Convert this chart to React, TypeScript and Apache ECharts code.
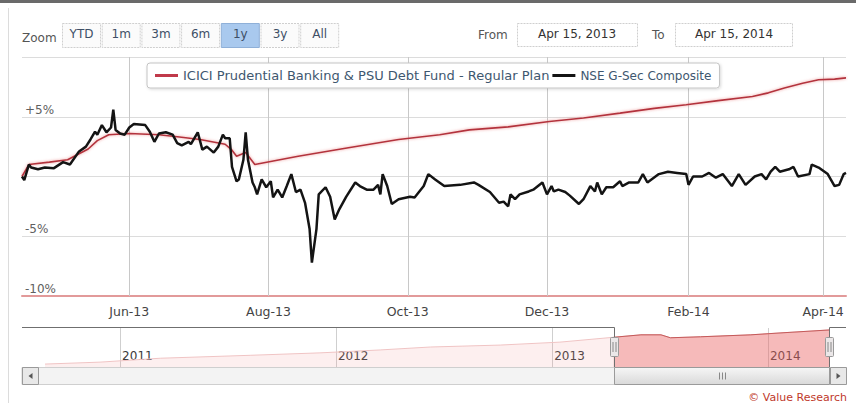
import React, { useEffect, useRef } from 'react';
import * as echarts from 'echarts';

const FONT = '"DejaVu Sans", Verdana, sans-serif';

const fundName = 'ICICI Prudential Banking & PSU Debt Fund - Regular Plan';
const indexName = 'NSE G-Sec Composite';

const mainStart = '2013-04-15';
const mainEnd = '2014-04-11';

const fundDates = [
  '2013-04-15', '2013-04-18', '2013-04-27', '2013-05-05', '2013-05-10', '2013-05-14', '2013-05-18',
  '2013-05-23', '2013-06-01', '2013-06-14', '2013-06-23', '2013-07-02', '2013-07-13', '2013-07-16',
  '2013-07-18', '2013-07-22', '2013-07-26', '2013-08-14', '2013-09-05', '2013-09-27', '2013-10-15',
  '2013-10-28', '2013-11-14', '2013-12-02', '2013-12-17', '2014-01-02', '2014-01-17', '2014-01-31',
  '2014-02-14', '2014-03-01', '2014-03-08', '2014-03-15', '2014-03-23', '2014-03-30', '2014-04-06',
  '2014-04-11',
];
const fundValues = [
  0.0, 1.0, 1.2, 1.4, 1.9, 2.3, 3.0,
  3.5, 3.6, 3.5, 3.3, 3.1, 2.7, 2.2,
  1.7, 2.0, 1.0, 1.7, 2.4, 3.1, 3.5,
  3.9, 4.15, 4.6, 4.9, 5.3, 5.7, 6.0,
  6.35, 6.7, 7.0, 7.4, 7.8, 8.1, 8.15,
  8.25,
];

const indexDates = [
  '2013-04-15', '2013-04-16', '2013-04-18', '2013-04-19', '2013-04-22', '2013-04-25', '2013-04-29',
  '2013-05-03', '2013-05-06', '2013-05-10', '2013-05-13', '2013-05-15', '2013-05-17', '2013-05-18',
  '2013-05-20', '2013-05-22', '2013-05-24', '2013-05-25', '2013-05-26', '2013-05-28', '2013-05-30',
  '2013-06-01', '2013-06-03', '2013-06-08', '2013-06-10', '2013-06-12', '2013-06-14', '2013-06-17',
  '2013-06-20', '2013-06-22', '2013-06-24', '2013-06-27', '2013-06-28', '2013-07-01', '2013-07-03',
  '2013-07-05', '2013-07-08', '2013-07-10', '2013-07-12', '2013-07-13', '2013-07-15', '2013-07-16',
  '2013-07-18', '2013-07-19', '2013-07-21', '2013-07-22', '2013-07-23', '2013-07-25', '2013-07-26',
  '2013-07-27', '2013-07-29', '2013-07-31', '2013-08-02', '2013-08-03', '2013-08-05', '2013-08-07',
  '2013-08-09', '2013-08-11', '2013-08-13', '2013-08-15', '2013-08-17', '2013-08-19', '2013-08-20',
  '2013-08-22', '2013-08-23', '2013-08-26', '2013-08-28', '2013-08-30', '2013-09-01', '2013-09-04',
  '2013-09-08', '2013-09-10', '2013-09-13', '2013-09-16', '2013-09-18', '2013-09-19', '2013-09-20',
  '2013-09-22', '2013-09-24', '2013-09-27', '2013-10-02', '2013-10-04', '2013-10-08', '2013-10-10',
  '2013-10-13', '2013-10-17', '2013-10-24', '2013-10-30', '2013-11-01', '2013-11-06', '2013-11-10',
  '2013-11-12', '2013-11-14', '2013-11-15', '2013-11-17', '2013-11-19', '2013-11-23', '2013-11-25',
  '2013-11-29', '2013-12-01', '2013-12-03', '2013-12-04', '2013-12-06', '2013-12-09', '2013-12-11',
  '2013-12-15', '2013-12-17', '2013-12-20', '2013-12-22', '2013-12-23', '2013-12-25', '2013-12-27',
  '2013-12-30', '2014-01-02', '2014-01-03', '2014-01-06', '2014-01-10', '2014-01-12', '2014-01-14',
  '2014-01-19', '2014-01-23', '2014-01-27', '2014-01-31', '2014-02-01', '2014-02-03', '2014-02-07',
  '2014-02-10', '2014-02-13', '2014-02-16', '2014-02-20', '2014-02-23', '2014-02-26', '2014-03-02',
  '2014-03-05', '2014-03-07', '2014-03-09', '2014-03-11', '2014-03-13', '2014-03-17', '2014-03-19',
  '2014-03-21', '2014-03-26', '2014-03-27', '2014-03-30', '2014-04-03', '2014-04-06', '2014-04-08',
  '2014-04-10', '2014-04-11',
];
const indexValues = [
  0.0, -0.3, 1.0, 0.75, 0.6, 0.75, 0.7,
  1.2, 1.0, 2.1, 2.5, 3.1, 3.75, 3.5,
  4.3, 3.7, 4.1, 5.6, 3.9, 3.6, 3.5,
  4.1, 4.4, 4.3, 3.75, 2.9, 3.6, 3.7,
  3.5, 2.8, 2.6, 2.9, 2.7, 3.7, 2.25,
  2.5, 2.0, 2.5, 3.5, 3.2, 3.2, 0.8,
  -0.4, -0.25, 1.4, 3.7, 1.4, -0.5, -0.9,
  -1.5, -0.25, -0.9, -0.4, -1.75, -1.1, -1.75,
  -0.8, 0.2, -1.3, -1.1, -2.2, -4.4, -7.2,
  -4.4, -1.5, -0.9, -1.7, -3.6, -2.75, -1.7,
  -0.5, -0.8, -1.1, -1.1, -0.7, -1.5, 0.2,
  -0.8, -2.3, -1.9, -1.7, -1.75, -0.8, 0.2,
  -0.25, -0.8, -0.7, -0.5, -0.7, -1.3, -2.2,
  -2.1, -2.5, -1.5, -1.9, -1.5, -1.25, -1.1,
  -0.5, -1.5, -0.8, -1.25, -1.1, -1.3, -1.6,
  -2.3, -1.9, -0.8, -1.25, -0.5, -1.5, -0.9,
  -0.9, -0.4, -0.8, -0.5, -0.5, 0.2, -0.5,
  0.2, 0.4, 0.3, 0.2, -0.7, 0.0, 0.0,
  0.3, -0.1, 0.2, -0.8, 0.2, -0.7, 0.0,
  0.2, -0.25, 0.4, 0.8, 0.4, 0.6, 0.8,
  0.0, 0.2, 1.0, 0.75, 0.2, -0.8, -0.7,
  0.2, 0.3,
];

const yTickLabels = ['-10%', '-5%', '', '+5%', ''];
const monthTicks = ['2013-06-01', '2013-08-01', '2013-10-01', '2013-12-01', '2014-02-01', '2014-04-01'];

// Navigator (full history of the fund)
const navStart = '2010-07-19';
const navEnd = '2014-05-13';
const navDates = [
  '2010-08-27', '2010-11-28', '2011-03-10', '2011-08-09', '2011-12-05', '2012-03-16',
  '2012-06-09', '2012-10-05', '2013-01-14', '2013-04-15', '2013-05-31', '2013-07-04',
  '2013-07-20', '2013-09-09', '2013-12-03', '2014-01-23', '2014-04-15',
];
const navValues = [
  10.3, 10.5, 10.9, 11.2, 11.45, 11.75,
  12.05, 12.25, 12.55, 13.05, 13.3, 13.3,
  13.0, 13.1, 13.3, 13.5, 13.8,
];
const navYearTicks = ['2011-01-01', '2012-01-01', '2013-01-01', '2014-01-01'];
const selStart = '2013-04-15';
const selEnd = '2014-04-15';

const rangeButtons = ['YTD', '1m', '3m', '6m', '1y', '3y', 'All'];
const selectedButton = '1y';
const fromText = 'Apr 15, 2013';
const toText = 'Apr 15, 2014';

const MONTHS = ['Jan', 'Feb', 'Mar', 'Apr', 'May', 'Jun', 'Jul', 'Aug', 'Sep', 'Oct', 'Nov', 'Dec'];
const ts = (s: string) => new Date(s + 'T00:00:00').getTime();
const fmtMonth = (t: number) => {
  const d = new Date(t);
  return MONTHS[d.getMonth()] + '-' + String(d.getFullYear()).slice(2);
};

function txt(x: number, y: number, text: string, size: number, fill: string, align = 'left') {
  return {
    type: 'text',
    x,
    y,
    z: 20,
    style: {
      text,
      fill,
      font: `${size}px ${FONT}`,
      align,
      verticalAlign: 'middle',
      textAlign: align,
      textVerticalAlign: 'middle',
    },
  };
}

function staticGraphics() {
  const g: any[] = [];
  g.push({ type: 'rect', z: 20, shape: { x: 0, y: 0, width: 856, height: 3 }, style: { fill: '#6a6a6a' } });
  g.push({ type: 'line', z: 20, shape: { x1: 8.5, y1: 8, x2: 8.5, y2: 403 }, style: { stroke: '#dcdcdc', lineWidth: 1 } });
  g.push(txt(22, 38, 'Zoom', 12, '#555'));
  rangeButtons.forEach((b, i) => {
    const x = 62 + i * 39.7;
    const sel = b === selectedButton;
    g.push({
      type: 'rect', z: 20,
      shape: { x: x + 0.5, y: 23.5, width: 38, height: 24 },
      style: { fill: sel ? '#a9c9ee' : '#fbfbfb', stroke: sel ? '#8fb0d8' : '#cfcfcf', lineWidth: 1, lineDash: sel ? null : [2, 1] },
    });
    g.push(txt(x + 19.5, 34, b, 12, '#3e4f66', 'center'));
  });
  g.push(txt(478, 35, 'From', 12, '#555'));
  g.push({ type: 'rect', z: 20, shape: { x: 517.5, y: 23.5, width: 120, height: 23 }, style: { fill: '#fff', stroke: '#cfcfcf', lineWidth: 1, lineDash: [2, 1] } });
  g.push(txt(577, 34, fromText, 12, '#333', 'center'));
  g.push(txt(652, 35, 'To', 12, '#555'));
  g.push({ type: 'rect', z: 20, shape: { x: 675.5, y: 23.5, width: 117, height: 23 }, style: { fill: '#fff', stroke: '#cfcfcf', lineWidth: 1, lineDash: [2, 1] } });
  g.push(txt(734, 34, toText, 12, '#333', 'center'));
  g.push(txt(847, 397, '\u00A9 Value Research', 11, '#c0392b', 'right'));
  return g;
}

function navigatorGraphics(x0: number, x1: number) {
  const top = 327.5;
  const bot = 367.5;
  const left = 22;
  const right = 846;
  const g: any[] = [];
  g.push({
    type: 'polyline', z: 20,
    shape: { points: [[left, top], [x0, top], [x0, bot], [x1, bot], [x1, top], [right, top]] },
    style: { stroke: '#6f6f6f', lineWidth: 1, fill: null },
  });
  g.push({ type: 'rect', z: 20, shape: { x: left, y: bot, width: right - left, height: 17 }, style: { fill: '#f3f3f3', stroke: '#cfcfcf', lineWidth: 1 } });
  g.push({
    type: 'rect', z: 21, shape: { x: x0, y: bot, width: x1 - x0, height: 17 },
    style: {
      fill: new echarts.graphic.LinearGradient(0, 0, 0, 1, [
        { offset: 0, color: '#f6f6f6' },
        { offset: 1, color: '#d9d9d9' },
      ]),
      stroke: '#9a9a9a', lineWidth: 1,
    },
  });
  const cx = Math.round((x0 + x1) / 2);
  [-3, 0, 3].forEach((d) => {
    g.push({ type: 'line', z: 22, shape: { x1: cx + d + 0.5, y1: bot + 5, x2: cx + d + 0.5, y2: bot + 12 }, style: { stroke: '#888', lineWidth: 1 } });
  });
  const btn = (bx: number, dir: number) => {
    g.push({ type: 'rect', z: 22, shape: { x: bx + 0.5, y: bot, width: 16, height: 17 }, style: { fill: '#e8e8e8', stroke: '#9a9a9a', lineWidth: 1 } });
    const mx = bx + 8.5;
    const pts = dir < 0 ? [[mx + 2, bot + 5.5], [mx + 2, bot + 11.5], [mx - 2, bot + 8.5]] : [[mx - 2, bot + 5.5], [mx - 2, bot + 11.5], [mx + 2, bot + 8.5]];
    g.push({ type: 'polygon', z: 23, shape: { points: pts }, style: { fill: '#555' } });
  };
  btn(left, -1);
  btn(right - 16, 1);
  [x0, x1].forEach((hx) => {
    g.push({ type: 'rect', z: 22, shape: { x: hx - 4, y: 337.5, width: 8, height: 19, r: 1 }, style: { fill: '#ebe7e8', stroke: '#9a9a9a', lineWidth: 1 } });
    g.push({ type: 'line', z: 23, shape: { x1: hx - 1.5, y1: 342, x2: hx - 1.5, y2: 352 }, style: { stroke: '#888', lineWidth: 1 } });
    g.push({ type: 'line', z: 23, shape: { x1: hx + 1.5, y1: 342, x2: hx + 1.5, y2: 352 }, style: { stroke: '#888', lineWidth: 1 } });
  });
  return g;
}

export default function App() {
  const ref = useRef<HTMLDivElement>(null);

  useEffect(() => {
    document.body.style.margin = '0';
    const chart = echarts.init(ref.current!, null, { renderer: 'svg' });

    const fundData = fundDates.map((d, i) => [ts(d), fundValues[i]]);
    const indexData = indexDates.map((d, i) => [ts(d), indexValues[i]]);
    const navData = navDates.map((d, i) => [ts(d), navValues[i]]);
    const navSel = navData.filter((p) => p[0] >= ts(selStart) && p[0] <= ts(selEnd));

    const option: any = {
      animation: false,
      backgroundColor: '#fff',
      textStyle: { fontFamily: FONT },
      legend: {
        data: [fundName, indexName],
        left: 147,
        top: 63,
        padding: [6, 8],
        itemGap: 3,
        itemWidth: 23,
        itemHeight: 3,
        icon: 'rect',
        selectedMode: false,
        backgroundColor: '#fff',
        borderColor: '#c4c4c4',
        borderWidth: 1,
        borderRadius: 3,
        shadowColor: 'rgba(0,0,0,0.15)',
        shadowBlur: 3,
        shadowOffsetX: 1,
        shadowOffsetY: 1,
        formatter: (name: string) => (name === fundName ? `{a|${name}}` : `{b|${name}}`),
        textStyle: {
          color: '#3e576f', fontFamily: FONT,
          rich: {
            a: { fontSize: 13, color: '#3e576f', fontFamily: FONT },
            b: { fontSize: 12, color: '#3e576f', fontFamily: FONT },
          },
        },
      },
      grid: [
        { left: 22, right: 10, top: 57, bottom: 107 },
        { left: 22, right: 10, top: 328, height: 39 },
      ],
      xAxis: [
        {
          type: 'time', gridIndex: 0, min: ts(mainStart), max: ts(mainEnd),
          axisLine: { show: true, onZero: false, lineStyle: { color: '#e29a9a', width: 2 } },
          axisTick: { show: false }, axisLabel: { show: false }, splitLine: { show: false },
        },
        {
          type: 'value', gridIndex: 1, min: ts(navStart), max: ts(navEnd), scale: true,
          axisLine: { show: false }, axisTick: { show: false }, splitLine: { show: false },
          axisLabel: {
            inside: true,
            customValues: navYearTicks.map(ts),
            formatter: (v: number) => String(new Date(v).getFullYear()),
            align: 'left',
            margin: 5,
            padding: [0, 0, 0, 2],
            color: '#3a3a3a',
            fontSize: 12,
            fontFamily: FONT,
          },
        },
      ],
      yAxis: [
        {
          type: 'value', gridIndex: 0, min: -10, max: 10, interval: 5,
          axisLine: { show: false }, axisTick: { show: false },
          splitLine: { lineStyle: { color: '#dcdcdc', width: 1 } },
          axisLabel: {
            inside: true, margin: 3, verticalAlign: 'bottom', padding: [0, 0, 1, 0],
            color: '#606060', fontSize: 12, fontFamily: FONT,
            formatter: (v: number) => yTickLabels[Math.round((v + 10) / 5)] || '',
          },
        },
        { type: 'value', gridIndex: 1, min: 10, max: 14, show: false },
      ],
      series: [
        {
          type: 'line', name: fundName, xAxisIndex: 0, yAxisIndex: 0, data: fundData,
          showSymbol: false, symbol: 'none', z: 3,
          lineStyle: { color: '#b3333d', width: 1.6, shadowColor: 'rgba(230,110,110,0.7)', shadowBlur: 3 },
          itemStyle: { color: '#c0394a' },
          markLine: {
            silent: true, z: 1, symbol: ['none', 'none'], animation: false,
            lineStyle: { color: '#c8c8c8', width: 1, type: 'solid' },
            label: { show: true, position: 'start', distance: 9, formatter: '{b}', color: '#444', fontSize: 12.5, fontFamily: FONT },
            emphasis: { disabled: true },
            data: monthTicks.map((d) => ({ xAxis: ts(d), name: fmtMonth(ts(d)) })),
          },
        },
        {
          type: 'line', name: indexName, xAxisIndex: 0, yAxisIndex: 0, data: indexData,
          showSymbol: false, symbol: 'none', z: 4,
          lineStyle: { color: '#141414', width: 2.5 },
          itemStyle: { color: '#141414' },
        },
        {
          type: 'line', name: 'nav-all', xAxisIndex: 1, yAxisIndex: 1, data: navData,
          showSymbol: false, symbol: 'none', z: 3, silent: true,
          lineStyle: { color: '#f0c4c4', width: 1 },
          areaStyle: { color: 'rgba(240,150,150,0.22)', origin: 'start' },
          markLine: {
            silent: true, z: 1, symbol: ['none', 'none'], animation: false,
            lineStyle: { color: '#cfcfcf', width: 1, type: 'solid' },
            label: { show: false },
            emphasis: { disabled: true },
            data: navYearTicks.map((d) => ({ xAxis: ts(d) })),
          },
        },
        {
          type: 'line', name: 'nav-selected', xAxisIndex: 1, yAxisIndex: 1, data: navSel,
          showSymbol: false, symbol: 'none', z: 4, silent: true,
          lineStyle: { color: '#c45a5a', width: 1 },
          areaStyle: { color: 'rgba(232,90,90,0.5)', origin: 'start' },
        },
      ],
      graphic: staticGraphics(),
    };

    chart.setOption(option);
    const x0 = chart.convertToPixel({ xAxisIndex: 1 } as any, ts(selStart)) as unknown as number;
    const x1 = chart.convertToPixel({ xAxisIndex: 1 } as any, ts(selEnd)) as unknown as number;
    chart.setOption({ graphic: [...staticGraphics(), ...navigatorGraphics(Math.round(x0) + 0.5, Math.round(x1) + 0.5)] });

    return () => chart.dispose();
  }, []);

  return <div ref={ref} style={{ width: 856, height: 403, background: '#fff' }} />;
}
